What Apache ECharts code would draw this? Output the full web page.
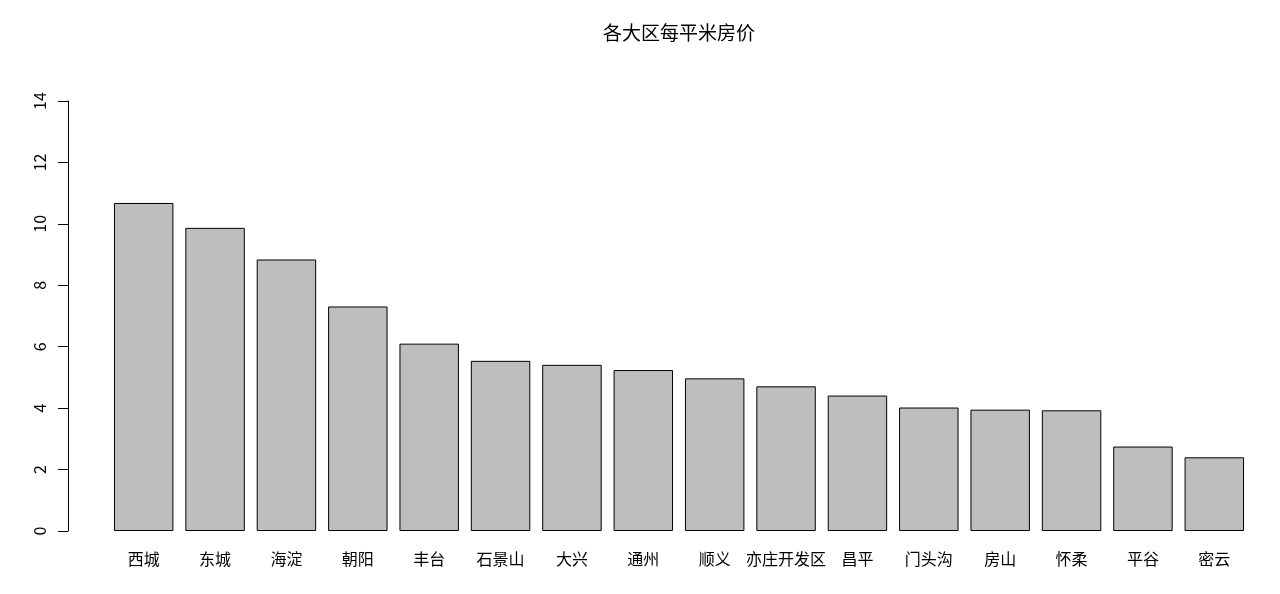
<!DOCTYPE html>
<html>
<head>
    <meta http-equiv="Content-Type" content="text/html; charset=UTF-8">
    <title>各大区每平米房价</title>
    <script type="text/javascript" src="https://cdn.jsdelivr.net/npm/echarts@6/dist/echarts.min.js"></script>
    <style>
        html, body { margin: 0; padding: 0; background: #fff; }
    </style>
</head>
<body>
    <div id="main" style="width: 1280px;height:594px;"></div>
    <script type="text/javascript">
        // 各区名称（X轴）
        var districts = ['西城', '东城', '海淀', '朝阳', '丰台', '石景山', '大兴', '通州',
                         '顺义', '亦庄开发区', '昌平', '门头沟', '房山', '怀柔', '平谷', '密云'];
        // 每平米房价（万元）
        var prices = [10.68, 9.87, 8.84, 7.31, 6.10, 5.54, 5.41, 5.24,
                      4.97, 4.71, 4.41, 4.02, 3.95, 3.93, 2.75, 2.40];
        // Y轴刻度
        var yTicks = [0, 2, 4, 6, 8, 10, 12, 14];

        var font = '"Noto Sans CJK SC", "Noto Sans", sans-serif';
        var myChart = echarts.init(document.getElementById('main'));
        myChart.setOption({
            animation: false,
            title: {
                text: '各大区每平米房价',
                left: 598,
                top: 18,
                textStyle: { fontSize: 19, fontWeight: 'normal', color: '#000', fontFamily: font }
            },
            grid: { left: 108, right: 30, top: 101, bottom: 63 },
            xAxis: {
                type: 'category',
                data: districts,
                axisLine: { show: false },
                axisTick: { show: false },
                axisLabel: { margin: 20, fontSize: 16, color: '#000', fontFamily: font, interval: 0 }
            },
            yAxis: {
                type: 'value',
                min: yTicks[0],
                max: yTicks[yTicks.length - 1],
                interval: 2,
                offset: 40,
                splitLine: { show: false },
                axisLine: { show: true, lineStyle: { color: '#000', width: 1 } },
                axisTick: { show: true, length: 10, lineStyle: { color: '#000' } },
                axisLabel: { rotate: 90, margin: 20, fontSize: 16, color: '#000', fontFamily: font }
            },
            series: [{
                name: '房价',
                type: 'bar',
                data: prices,
                barCategoryGap: '16.7%',
                itemStyle: { color: '#bebebe', borderColor: '#000', borderWidth: 1 }
            }]
        });
    </script>
</body>
</html>
